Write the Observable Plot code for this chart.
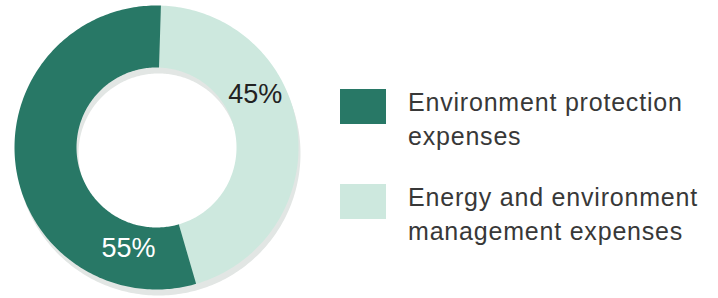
<!DOCTYPE html>
<html>
<head>
<meta charset="utf-8">
<script src="https://cdn.jsdelivr.net/npm/d3@7"></script>
<script src="https://cdn.jsdelivr.net/npm/@observablehq/plot@0.6"></script>
<style>
  html, body { margin: 0; padding: 0; background: #fff; }
  #wrap { position: relative; width: 718px; height: 298px; overflow: hidden; }
  #legend { position: absolute; left: 340px; top: 0; font-family: "Liberation Sans", Arial, sans-serif; color: #383838; }
  .item { position: absolute; left: 0; width: 380px; }
  .sw { position: absolute; left: 0; width: 46px; height: 35px; }
  .lab { position: absolute; left: 68px; font-size: 25px; line-height: 34px; letter-spacing: 0.8px; white-space: nowrap; }
</style>
</head>
<body>
<div id="wrap"><div id="chart"></div><div id="legend"></div></div>
<script>
// ---- data ----
const categories = ["Environment protection expenses", "Energy and environment management expenses"];
const legendLines = [["Environment protection", "expenses"], ["Energy and environment", "management expenses"]];
const values = [55, 45];
const labels = ["55%", "45%"];
const colors = ["#287866", "#cde8de"];

// ---- layout ----
const W = 718, H = 298;
const cx = 156, cy = 147;
const rOuter = 142, rInner = 80;
const startDeg = 1.8; // light slice starts just right of top, drawn clockwise
const labelPos = [{frac: 0.16, r: 105}, {frac: 0.37, r: 112}];
const labelFill = ["#ffffff", "#222222"];

// draw order clockwise from start: light (index 1) then dark (index 0)
const order = [1, 0];
const pie = d3.pie().sort(null).value(i => values[i])
  .startAngle(startDeg * Math.PI / 180)
  .endAngle(startDeg * Math.PI / 180 + 2 * Math.PI);
const arcs = pie(order);

function ringPolygon(a0, a1, key) {
  const n = Math.max(8, Math.ceil((a1 - a0) / (Math.PI / 180)));
  const pts = [];
  for (let k = 0; k <= n; k++) {
    const a = a0 + (a1 - a0) * k / n;
    pts.push({key, x: rOuter * Math.sin(a), y: rOuter * Math.cos(a)});
  }
  for (let k = n; k >= 0; k--) {
    const a = a0 + (a1 - a0) * k / n;
    pts.push({key, x: rInner * Math.sin(a), y: rInner * Math.cos(a)});
  }
  return pts;
}

const slicePts = arcs.flatMap(a => ringPolygon(a.startAngle, a.endAngle, categories[a.data]));
const shadowPts = ringPolygon(0, 2 * Math.PI - 1e-6, "shadow");

const labelData = arcs.map(a => {
  const i = a.data;
  const ang = a.startAngle + (a.endAngle - a.startAngle) * labelPos[i].frac;
  return {text: labels[i], x: labelPos[i].r * Math.sin(ang), y: labelPos[i].r * Math.cos(ang), fill: labelFill[i]};
});

const chart = Plot.plot({
  width: W, height: H,
  margin: 0,
  x: {domain: [-cx, W - cx], axis: null},
  y: {domain: [-(H - cy), cy], axis: null},
  color: {domain: categories, range: colors},
  style: {background: "transparent"},
  marks: [
    Plot.line(shadowPts, {x: "x", y: "y", fill: "#e2e6e4", stroke: "none", curve: "linear", dx: 2, dy: 6}),
    Plot.line(slicePts, {x: "x", y: "y", z: "key", fill: "key", stroke: "none", curve: "linear"}),
    Plot.text(labelData, {x: "x", y: "y", text: "text", fill: d => d.fill, fontSize: 27,
      fontFamily: "Liberation Sans, Arial, sans-serif", textAnchor: "middle", lineAnchor: "middle"})
  ]
});
document.getElementById("chart").appendChild(chart);

// ---- legend ----
const legend = document.getElementById("legend");
const itemTops = [89, 184];
const textTops = [85.3, 180.3];
categories.forEach((c, i) => {
  const sw = document.createElement("div");
  sw.className = "sw";
  sw.style.top = itemTops[i] + "px";
  sw.style.background = colors[i];
  legend.appendChild(sw);
  const lab = document.createElement("div");
  lab.className = "lab";
  lab.style.top = textTops[i] + "px";
  lab.innerHTML = legendLines[i].join("<br>");
  legend.appendChild(lab);
});
</script>
</body>
</html>
